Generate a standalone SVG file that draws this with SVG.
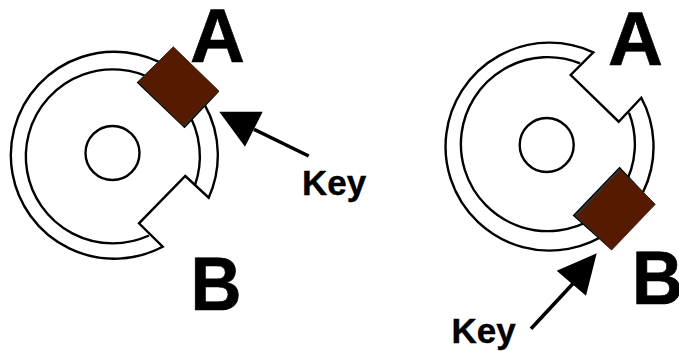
<svg xmlns="http://www.w3.org/2000/svg" width="679" height="351" viewBox="0 0 679 351">
<style>
.o{fill:#fff;stroke:#000;stroke-width:2.4;stroke-linejoin:miter}
.r{fill:none;stroke:#000;stroke-width:2.4}
.k{fill:#551a00;stroke:#3a2a20;stroke-width:.8}
.s{fill:#333;stroke:#000;stroke-width:1.2}
.a{fill:#000}
.l{stroke:#000;stroke-width:3.6;fill:none}
text{font-family:"Liberation Sans",Arial,sans-serif;font-weight:700;fill:#000;stroke:#000}
.b{font-size:76px;stroke-width:.7}
.m{font-size:35px;stroke-width:.4}
</style>
<rect width="679" height="351" fill="#fff"/>
<g id="disc-left">
<path class="o" d="M162.7 246.7A103.5 103.5 0 1 1 208.7 197.7L185.3 176L139 223.3Z"/>
<path class="r" d="M149 235.5A87 87 0 1 1 195 185"/>
<circle class="r" cx="112.5" cy="153" r="27"/>
</g>
<g id="key-left">
<polygon class="s" points="173,48 218,92 184.500,127.500 137.500,82.500"/>
<polygon class="k" points="173.300,46.700 219,91 183,125.500 138.500,81.500"/>
</g>
<g id="disc-right">
<path class="o" d="M641.300 97.700A104 104 0 1 1 593.300 52.300L570.700 75L618.700 121.700Z"/>
<path class="r" d="M629 112.700A87 87 0 1 1 580 63.300"/>
<circle class="r" cx="546.700" cy="145" r="27"/>
</g>
<g id="key-right">
<polygon class="s" points="619.500,167.500 654,204 611,249 573.500,215.500"/>
<polygon class="k" points="620.500,170 655.300,204.300 611.700,250 577,216"/>
</g>
<g id="connectors">
<line class="l" x1="254" y1="129.300" x2="308.700" y2="156"/>
<polygon class="a" points="219.300,111.700 262.700,111.700 245,146.700"/>
<line class="l" x1="573.300" y1="283.300" x2="531" y2="328.700"/>
<polygon class="a" points="596.700,253.300 556.700,270.700 586,295.700"/>
</g>
<g id="labels">
<text class="b" x="190" y="61.500">A</text>
<text class="b" x="608" y="65">A</text>
<text class="b" x="190.500" y="310" textLength="51" lengthAdjust="spacingAndGlyphs">B</text>
<text class="b" x="632" y="303.500" textLength="51" lengthAdjust="spacingAndGlyphs">B</text>
<text class="m" x="302" y="195">Key</text>
<text class="m" x="451.500" y="343">Key</text>
</g>
</svg>
